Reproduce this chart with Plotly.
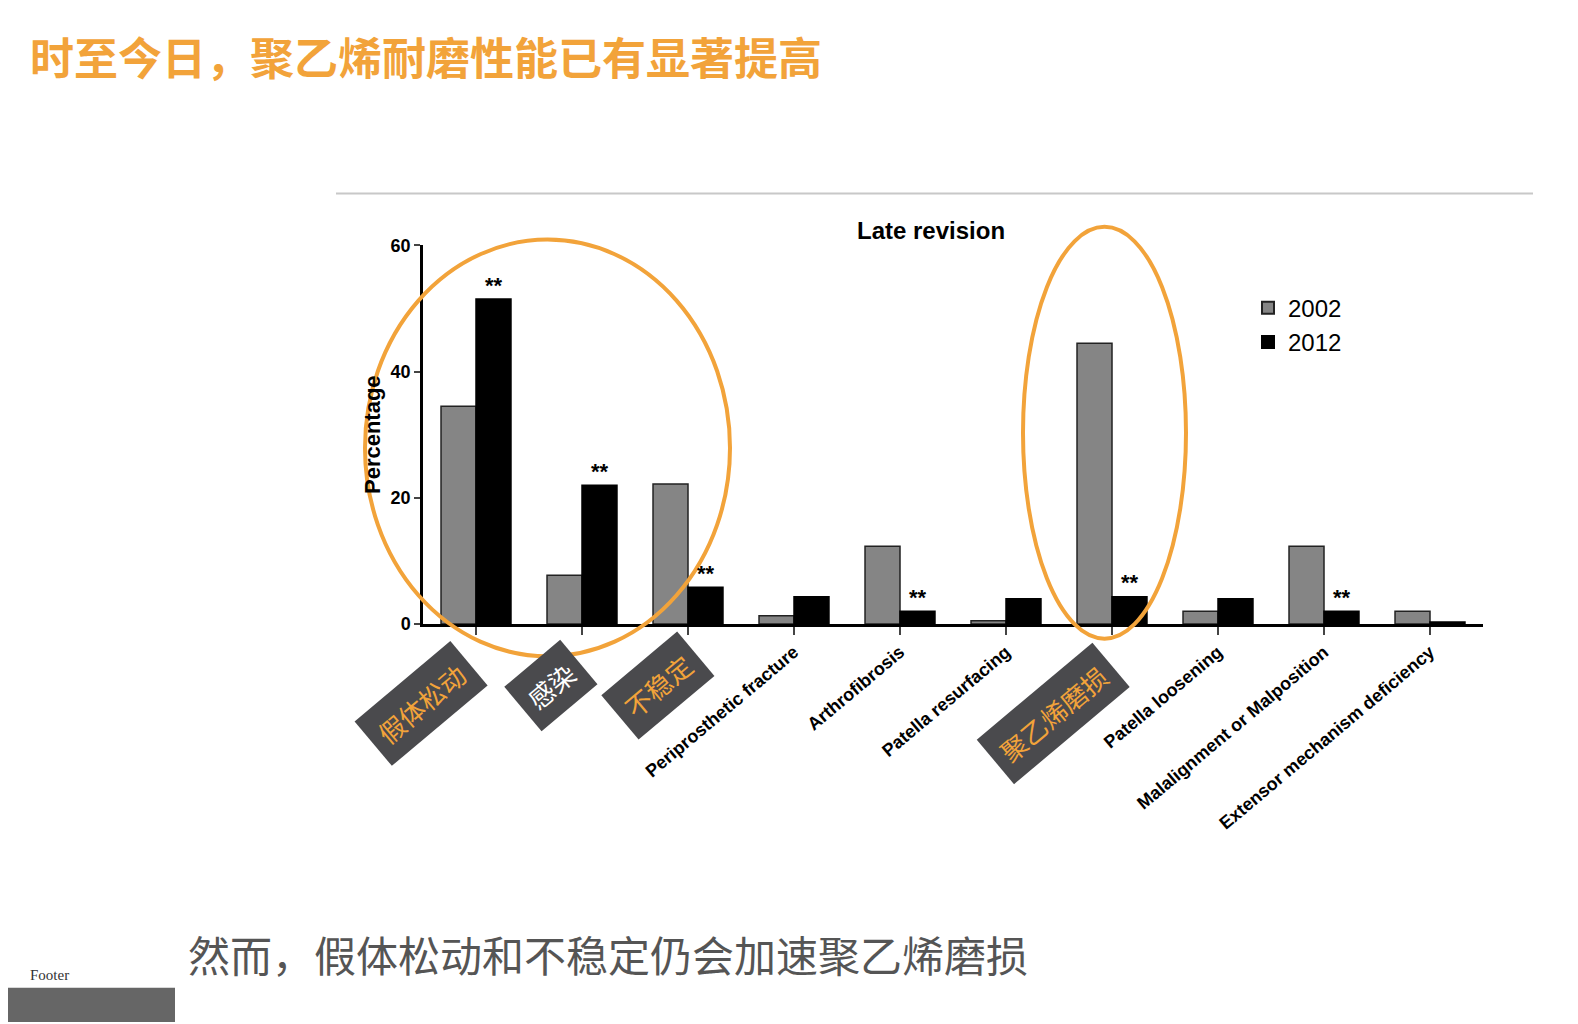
import plotly.graph_objects as go

# dados
categorias = ["Aseptic loosening", "Infection", "Instability", "Periprosthetic fracture",
              "Arthrofibrosis", "Patella resurfacing", "PE wear", "Patella loosening",
              "Malalignment or Malposition", "Extensor mechanism deficiency"]
rotulos = ["", "", "", "Periprosthetic fracture", "Arthrofibrosis", "Patella resurfacing",
           "", "Patella loosening", "Malalignment or Malposition", "Extensor mechanism deficiency"]
v2002 = [34.5, 7.7, 22.2, 1.3, 12.3, 0.5, 44.5, 2.0, 12.3, 2.0]
v2012 = [51.5, 22.0, 5.8, 4.3, 2.0, 4.0, 4.3, 4.0, 2.0, 0.3]
signif = [0, 1, 2, 4, 6, 8]
rotulos_cn = {0: "假体松动", 1: "感染", 2: "不稳定", 6: "聚乙烯磨损"}

W, H = 1578, 1024
px = lambda x: (x - 5) / W   # compensa a margem da página
py = lambda y: 1 - (y - 9) / H
laranja = "#F2A33A"

fig = go.Figure()
fig.add_trace(go.Bar(x=categorias, y=v2002, name="2002", marker_color="#858585",
                     marker_line_color="#222", marker_line_width=1.5))
fig.add_trace(go.Bar(x=categorias, y=v2012, name="2012", marker_color="#000000",
                     marker_line_color="#000", marker_line_width=1.5))

fig.update_layout(
    width=W, height=H, margin=dict(l=0, r=0, t=0, b=0),
    plot_bgcolor="white", paper_bgcolor="white",
    barmode="group", bargap=0.34, bargroupgap=0,
    font=dict(family="Liberation Sans, Arial", color="black"),
    xaxis=dict(domain=[px(420), px(1480)], range=[-0.5, 9.5], tickmode="array",
               tickvals=categorias, ticktext=rotulos, tickangle=-40,
               tickfont=dict(size=18, family="Liberation Sans", weight="bold"),
               showline=True, linecolor="black", linewidth=2.5, ticks="outside",
               ticklen=8, tickwidth=2, showgrid=False, anchor="y"),
    yaxis=dict(domain=[py(627), py(241)], range=[0, 60], tickvals=[0, 20, 40, 60],
               showline=True, linecolor="black", linewidth=2.5, ticks="outside",
               ticklen=6, tickwidth=2, showgrid=False, zeroline=False,
               tickfont=dict(size=18, weight="bold"),
               title=dict(text="Percentage", font=dict(size=22, weight="bold"), standoff=4)),
    legend=dict(x=px(1245), y=py(282), xanchor="left", yanchor="top",
                font=dict(size=24), bgcolor="rgba(0,0,0,0)", tracegroupgap=6,
                itemsizing="constant"),
    showlegend=True,
)

anots = [
    dict(x=px(25), y=py(48), xref="paper", yref="paper", xanchor="left", yanchor="middle",
         showarrow=False, text="<b>时至今日，聚乙烯耐磨性能已有显著提高</b>",
         font=dict(size=44, color=laranja, family="Noto Sans CJK SC")),
    dict(x=px(928), y=py(226), xref="paper", yref="paper", yanchor="middle", showarrow=False,
         text="<b>Late revision</b>", font=dict(size=24)),
    dict(x=px(183), y=py(963), xref="paper", yref="paper", xanchor="left", yanchor="middle",
         showarrow=False, text="然而，假体松动和不稳定仍会加速聚乙烯磨损",
         font=dict(size=42, color="#555555", family="Noto Sans CJK SC")),
    dict(x=px(25), y=py(985), xref="paper", yref="paper", xanchor="left", yanchor="middle",
         showarrow=False, text="Footer",
         font=dict(size=15, color="#333", family="Liberation Serif")),
]
for i in signif:
    anots.append(dict(x=categorias[i], y=v2012[i], xref="x", yref="y", xshift=18, yshift=14,
                      showarrow=False, text="<b>**</b>", font=dict(size=22)))
pos_cn = {0: (418, 708), 1: (548, 690), 2: (655, 690), 6: (1050, 718)}
for i, txt in rotulos_cn.items():
    x, y = pos_cn[i]
    anots.append(dict(x=px(x), y=py(y), xref="paper", yref="paper", xanchor="center",
                      yanchor="middle", showarrow=False,
                      text=txt, textangle=-40, bgcolor="#4a4a4d", borderpad=10,
                      font=dict(size=26, color=laranja if i != 1 else "white",
                                family="Noto Sans CJK SC")))
fig.update_layout(annotations=anots)

fig.update_layout(shapes=[
    dict(type="line", xref="paper", yref="paper", x0=px(333), x1=px(1530), y0=py(188), y1=py(188),
         line=dict(color="#c8c8c8", width=2)),
    dict(type="circle", xref="paper", yref="paper", x0=px(362), x1=px(727), y0=py(660), y1=py(235),
         line=dict(color=laranja, width=4)),
    dict(type="circle", xref="paper", yref="paper", x0=px(1020), x1=px(1183), y0=py(642), y1=py(222),
         line=dict(color=laranja, width=4)),
    dict(type="rect", xref="paper", yref="paper", x0=0, x1=px(172), y0=0, y1=py(998),
         fillcolor="#666", line_width=0),
])

fig.write_html("out.html")
